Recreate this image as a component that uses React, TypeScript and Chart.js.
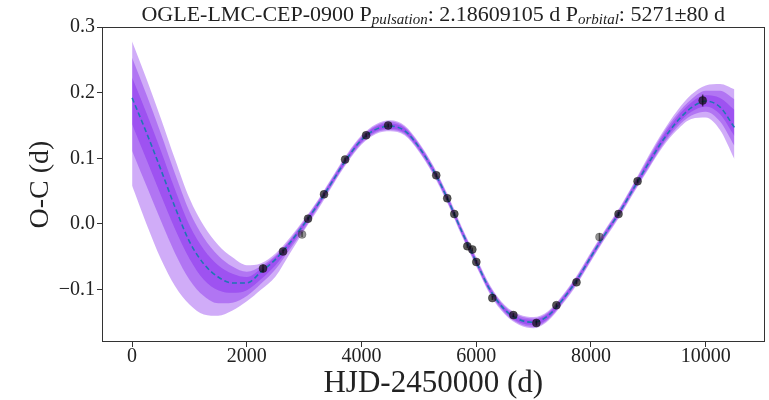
import React, { useEffect, useRef } from 'react';
import { Chart, registerables } from 'chart.js';

Chart.register(...registerables);

// Model grid (HJD-2450000)
const xGrid = [0, 250, 500, 750, 1000, 1250, 1500, 1750, 2000, 2250, 2500, 2750, 3000, 3250, 3500, 3750, 4000, 4250, 4500, 4750, 5000, 5250, 5500, 5750, 6000, 6250, 6500, 6750, 7000, 7250, 7500, 7750, 8000, 8250, 8500, 8750, 9000, 9250, 9500, 9750, 10000, 10250, 10500];

const medianModel = [0.192, 0.139, 0.083, 0.025, -0.027, -0.061, -0.081, -0.090, -0.090, -0.073, -0.054, -0.029, 0.000, 0.031, 0.066, 0.100, 0.128, 0.144, 0.149, 0.142, 0.117, 0.082, 0.038, -0.012, -0.058, -0.102, -0.131, -0.146, -0.150, -0.140, -0.116, -0.086, -0.050, -0.015, 0.018, 0.055, 0.092, 0.127, 0.156, 0.177, 0.187, 0.178, 0.147];

const band1Upper = [0.223, 0.169, 0.112, 0.052, -0.002, -0.039, -0.063, -0.076, -0.081, -0.068, -0.050, -0.026, 0.003, 0.034, 0.069, 0.103, 0.131, 0.148, 0.153, 0.146, 0.120, 0.085, 0.041, -0.009, -0.055, -0.099, -0.128, -0.143, -0.146, -0.137, -0.113, -0.083, -0.047, -0.012, 0.021, 0.059, 0.097, 0.133, 0.163, 0.185, 0.196, 0.192, 0.174];
const band1Lower = [0.152, 0.098, 0.044, -0.008, -0.053, -0.085, -0.101, -0.105, -0.101, -0.084, -0.063, -0.035, -0.004, 0.028, 0.063, 0.097, 0.125, 0.141, 0.145, 0.139, 0.114, 0.079, 0.035, -0.015, -0.061, -0.105, -0.134, -0.150, -0.154, -0.144, -0.119, -0.089, -0.053, -0.018, 0.015, 0.052, 0.088, 0.123, 0.151, 0.171, 0.179, 0.167, 0.134];

const band2Upper = [0.253, 0.197, 0.138, 0.076, 0.019, -0.021, -0.048, -0.065, -0.073, -0.064, -0.048, -0.024, 0.005, 0.036, 0.071, 0.105, 0.133, 0.150, 0.156, 0.148, 0.122, 0.087, 0.043, -0.007, -0.053, -0.097, -0.126, -0.140, -0.144, -0.135, -0.111, -0.081, -0.045, -0.010, 0.023, 0.061, 0.100, 0.137, 0.167, 0.190, 0.203, 0.203, 0.190];
const band2Lower = [0.111, 0.058, 0.005, -0.045, -0.085, -0.110, -0.121, -0.120, -0.110, -0.091, -0.069, -0.039, -0.008, 0.026, 0.061, 0.095, 0.123, 0.139, 0.143, 0.137, 0.112, 0.077, 0.033, -0.017, -0.063, -0.107, -0.136, -0.152, -0.157, -0.146, -0.121, -0.091, -0.055, -0.020, 0.013, 0.050, 0.085, 0.120, 0.147, 0.165, 0.171, 0.156, 0.119];

const band3Upper = [0.278, 0.221, 0.161, 0.098, 0.039, -0.003, -0.032, -0.051, -0.063, -0.060, -0.045, -0.021, 0.007, 0.038, 0.073, 0.107, 0.135, 0.152, 0.158, 0.150, 0.124, 0.089, 0.045, -0.005, -0.051, -0.095, -0.124, -0.138, -0.142, -0.133, -0.109, -0.079, -0.043, -0.008, 0.025, 0.063, 0.103, 0.140, 0.172, 0.197, 0.211, 0.213, 0.205];
const band3Lower = [0.058, 0.000, -0.053, -0.095, -0.123, -0.138, -0.140, -0.132, -0.118, -0.100, -0.080, -0.045, -0.010, 0.023, 0.059, 0.093, 0.121, 0.137, 0.141, 0.135, 0.110, 0.075, 0.031, -0.019, -0.065, -0.109, -0.138, -0.154, -0.159, -0.148, -0.123, -0.093, -0.057, -0.022, 0.011, 0.048, 0.083, 0.117, 0.143, 0.160, 0.162, 0.143, 0.099];

// Observed O-C points
const obsX = [2282, 2631, 2963, 3067, 3346, 3713, 4080, 4464, 5302, 5494, 5617, 5844, 5931, 6001, 6280, 6647, 7048, 7397, 7747, 8148, 8480, 8812, 9947];
const obsY = [-0.068, -0.042, -0.016, 0.008, 0.045, 0.098, 0.135, 0.150, 0.074, 0.039, 0.015, -0.034, -0.039, -0.058, -0.113, -0.139, -0.151, -0.124, -0.089, -0.020, 0.015, 0.065, 0.188];
const obsErr = [0.006, 0.003, 0.004, 0.003, 0.003, 0.003, 0.003, 0.003, 0.003, 0.003, 0.003, 0.003, 0.003, 0.003, 0.003, 0.003, 0.004, 0.003, 0.003, 0.006, 0.003, 0.003, 0.009];

const xTicks = [0, 2000, 4000, 6000, 8000, 10000];
const yTicks = [-0.1, 0.0, 0.1, 0.2, 0.3];

const titleParts = [
  { text: 'OGLE-LMC-CEP-0900 P', sub: false },
  { text: 'pulsation', sub: true },
  { text: ': 2.18609105 d P', sub: false },
  { text: 'orbital', sub: true },
  { text: ': 5271\u00b180 d', sub: false },
];
const xLabel = 'HJD-2450000 (d)';
const yLabel = 'O-C (d)';

const FONT = "'Liberation Serif', 'Times New Roman', serif";
const BAND_COLOR = 'rgba(121, 18, 235, 0.35)';
const INK = '#333';

const pts = (ys: number[]) => xGrid.map((x, i) => ({ x, y: ys[i] }));

const decorPlugin = {
  id: 'decor',
  beforeDatasetDraw(chart: any, args: any) {
    if (args.index !== 0) return;
    const { ctx, scales } = chart;
    const xs = scales.x;
    const ys = scales.y;
    ctx.save();
    ctx.strokeStyle = 'rgba(0,0,0,0.6)';
    ctx.lineWidth = 1.5;
    obsX.forEach((x, i) => {
      const px = xs.getPixelForValue(x);
      ctx.beginPath();
      ctx.moveTo(px, ys.getPixelForValue(obsY[i] - obsErr[i]));
      ctx.lineTo(px, ys.getPixelForValue(obsY[i] + obsErr[i]));
      ctx.stroke();
    });
    ctx.restore();
  },
  afterDraw(chart: any) {
    const { ctx, chartArea: a } = chart;
    ctx.save();
    // frame
    ctx.strokeStyle = INK;
    ctx.lineWidth = 1;
    ctx.strokeRect(Math.round(a.left) + 0.5, Math.round(a.top) + 0.5, Math.round(a.right - a.left) - 1, Math.round(a.bottom - a.top) - 1);

    // title
    const mainFont = `22px ${FONT}`;
    const subFont = `italic 15px ${FONT}`;
    let total = 0;
    titleParts.forEach((p) => {
      ctx.font = p.sub ? subFont : mainFont;
      total += ctx.measureText(p.text).width;
    });
    let cx = (a.left + a.right) / 2 - total / 2;
    ctx.fillStyle = '#222';
    ctx.textBaseline = 'alphabetic';
    ctx.textAlign = 'left';
    titleParts.forEach((p) => {
      ctx.font = p.sub ? subFont : mainFont;
      ctx.fillText(p.text, cx, p.sub ? 24 : 20.5);
      cx += ctx.measureText(p.text).width;
    });

    // x label
    ctx.font = `31px ${FONT}`;
    ctx.textAlign = 'center';
    ctx.fillText(xLabel, (a.left + a.right) / 2, 392);

    // y label
    ctx.save();
    ctx.translate(48, (a.top + a.bottom) / 2);
    ctx.rotate(-Math.PI / 2);
    ctx.font = `28px ${FONT}`;
    ctx.textAlign = 'center';
    ctx.fillText(yLabel, 0, 0);
    ctx.restore();

    ctx.restore();
  },
};

export default function App() {
  const ref = useRef<HTMLCanvasElement | null>(null);

  useEffect(() => {
    if (!ref.current) return;
    const bandDs = (ys: number[], fillTarget: number | boolean, order: number) => ({
      data: pts(ys),
      borderWidth: 0,
      borderColor: 'rgba(0,0,0,0)',
      backgroundColor: BAND_COLOR,
      pointRadius: 0,
      fill: fillTarget,
      cubicInterpolationMode: 'monotone',
      order,
    });
    const chart = new Chart(ref.current, {
      type: 'line',
      data: {
        datasets: [
          {
            data: obsX.map((x, i) => ({ x, y: obsY[i] })),
            showLine: false,
            pointRadius: 4,
            pointBackgroundColor: obsX.map((_, i) => (i === 2 || i === 19 ? 'rgba(40,40,40,0.5)' : 'rgba(10,10,10,0.68)')),
            pointBorderColor: obsX.map((_, i) => (i === 2 || i === 19 ? 'rgba(40,40,40,0.5)' : 'rgba(10,10,10,0.68)')),
            pointBorderWidth: 0.5,
            order: 0,
          } as any,
          {
            data: pts(medianModel),
            borderColor: '#1f77b4',
            borderWidth: 1.6,
            borderDash: [5, 3],
            pointRadius: 0,
            fill: false,
            cubicInterpolationMode: 'monotone',
            order: 1,
          } as any,
          bandDs(band1Upper, 3, 2) as any,
          bandDs(band1Lower, false, 2) as any,
          bandDs(band2Upper, 5, 3) as any,
          bandDs(band2Lower, false, 3) as any,
          bandDs(band3Upper, 7, 4) as any,
          bandDs(band3Lower, false, 4) as any,
        ],
      },
      options: {
        responsive: false,
        animation: false,
        events: [],
        layout: { padding: { left: 0, right: 4, top: 27, bottom: 0 } },
        plugins: {
          legend: { display: false },
          tooltip: { enabled: false },
          title: { display: false },
        },
        scales: {
          x: {
            type: 'linear',
            min: -525,
            max: 11025,
            afterBuildTicks: (s: any) => {
              s.ticks = xTicks.map((v) => ({ value: v }));
            },
            afterFit: (s: any) => {
              s.height = 58;
            },
            border: { display: false },
            grid: { display: true, drawOnChartArea: false, drawTicks: true, tickLength: 5, color: INK, lineWidth: 1 },
            ticks: {
              color: '#222',
              padding: 0,
              maxRotation: 0,
              autoSkip: false,
              font: { family: FONT, size: 20, lineHeight: 1 },
              callback: (v: any) => String(v),
            },
          },
          y: {
            type: 'linear',
            min: -0.18,
            max: 0.3,
            afterBuildTicks: (s: any) => {
              s.ticks = yTicks.map((v) => ({ value: v }));
            },
            afterFit: (s: any) => {
              s.width = 102;
            },
            border: { display: false },
            grid: { display: true, drawOnChartArea: false, drawTicks: true, tickLength: 5, color: INK, lineWidth: 1 },
            ticks: {
              color: '#222',
              padding: 2,
              autoSkip: false,
              font: { family: FONT, size: 20, lineHeight: 1 },
              callback: (v: any) => {
                const n = Number(v);
                return n < 0 ? '\u2212' + Math.abs(n).toFixed(1) : n.toFixed(1);
              },
            },
          },
        },
      } as any,
      plugins: [decorPlugin],
    });
    return () => chart.destroy();
  }, []);

  return (
    <div style={{ position: 'fixed', left: 0, top: 0, width: 769, height: 400, background: '#fff' }}>
      <canvas ref={ref} width={769} height={400} style={{ display: 'block' }} />
    </div>
  );
}
